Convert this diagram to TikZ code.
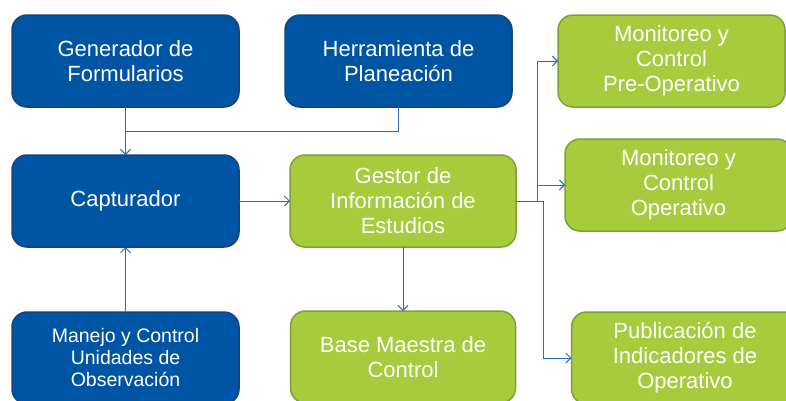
\documentclass[tikz,border=0pt]{standalone}
\usepackage{fontspec}
\setmainfont{Liberation Sans}
\usepackage{xcolor}
\usetikzlibrary{positioning, arrows.meta, calc}

\definecolor{boxblue}{RGB}{0,84,164}
\definecolor{blueedge}{RGB}{22,66,128}
\definecolor{boxgreen}{RGB}{166,203,60}
\definecolor{greenedge}{RGB}{128,160,52}
\definecolor{linkblue}{RGB}{42,108,182}

\begin{document}
\begin{tikzpicture}[
    x=1pt, y=1pt,
    box/.style={rectangle, rounded corners=15pt, line width=1.5pt, align=center, minimum width=227pt, minimum height=92pt, inner sep=0pt, outer sep=0pt},
    bluebox/.style={box, fill=boxblue, draw=blueedge},
    greenbox/.style={box, fill=boxgreen, draw=greenedge},
    link/.style={draw=linkblue, line width=1pt, -{Straight Barb[length=5pt, width=10pt]}},
    plain/.style={draw=linkblue, line width=1pt},
    every node/.style={font=\fontsize{22}{25}\selectfont, text=white}
]
\useasboundingbox (0,0) rectangle (786,-400);
\clip (0,0) rectangle (786,-400);

% inputs (blue)
\node[bluebox] (gen) at (125.5,-61) {Generador de\\Formularios};
\node[bluebox, right=46pt of gen] (herr) {Herramienta de\\Planeación};
\node[bluebox, below=48pt of gen] (capt) {Capturador};
\node[bluebox, below=65pt of capt, font=\fontsize{19.5}{22}\selectfont] (manejo) {Manejo y Control\\Unidades de\\Observación};

% processing and outputs (green)
\node[greenbox, right=51pt of capt, minimum width=226pt] (gestor) {Gestor de\\Información de\\Estudios};
\node[greenbox, below=64pt of gestor, minimum width=225pt] (base) {Base Maestra de\\Control};
\node[greenbox, right=46pt of herr] (mon1) {Monitoreo y\\Control\\Pre-Operativo};
\node[greenbox, below=32pt of mon1, xshift=7pt] (mon2) {Monitoreo y\\Control\\Operativo};
\node[greenbox, right=56pt of base, yshift=-1pt] (publ) {Publicación de\\Indicadores de\\Operativo};

% Arrows
\coordinate (join) at ($(gen.south)!0.5!(capt.north)$);
\draw[link] (gen) -- (capt);
\draw[plain] (herr.south) |- (join);
\draw[link] (capt) -- (gestor);
\draw[link] (manejo) -- (capt);
\draw[link] (gestor) -- (base);

\coordinate (fork1) at ($(gestor.east)+(21pt,0)$);
\coordinate (fork2) at ($(gestor.east)+(27pt,0)$);
\draw[link] (gestor.east) -- (fork1) |- (mon1.west);
\draw[link] (fork1 |- mon2.west) -- (mon2.west);
\draw[link] (gestor.east) -- (fork2) |- (publ.west);
\end{tikzpicture}
\end{document}
